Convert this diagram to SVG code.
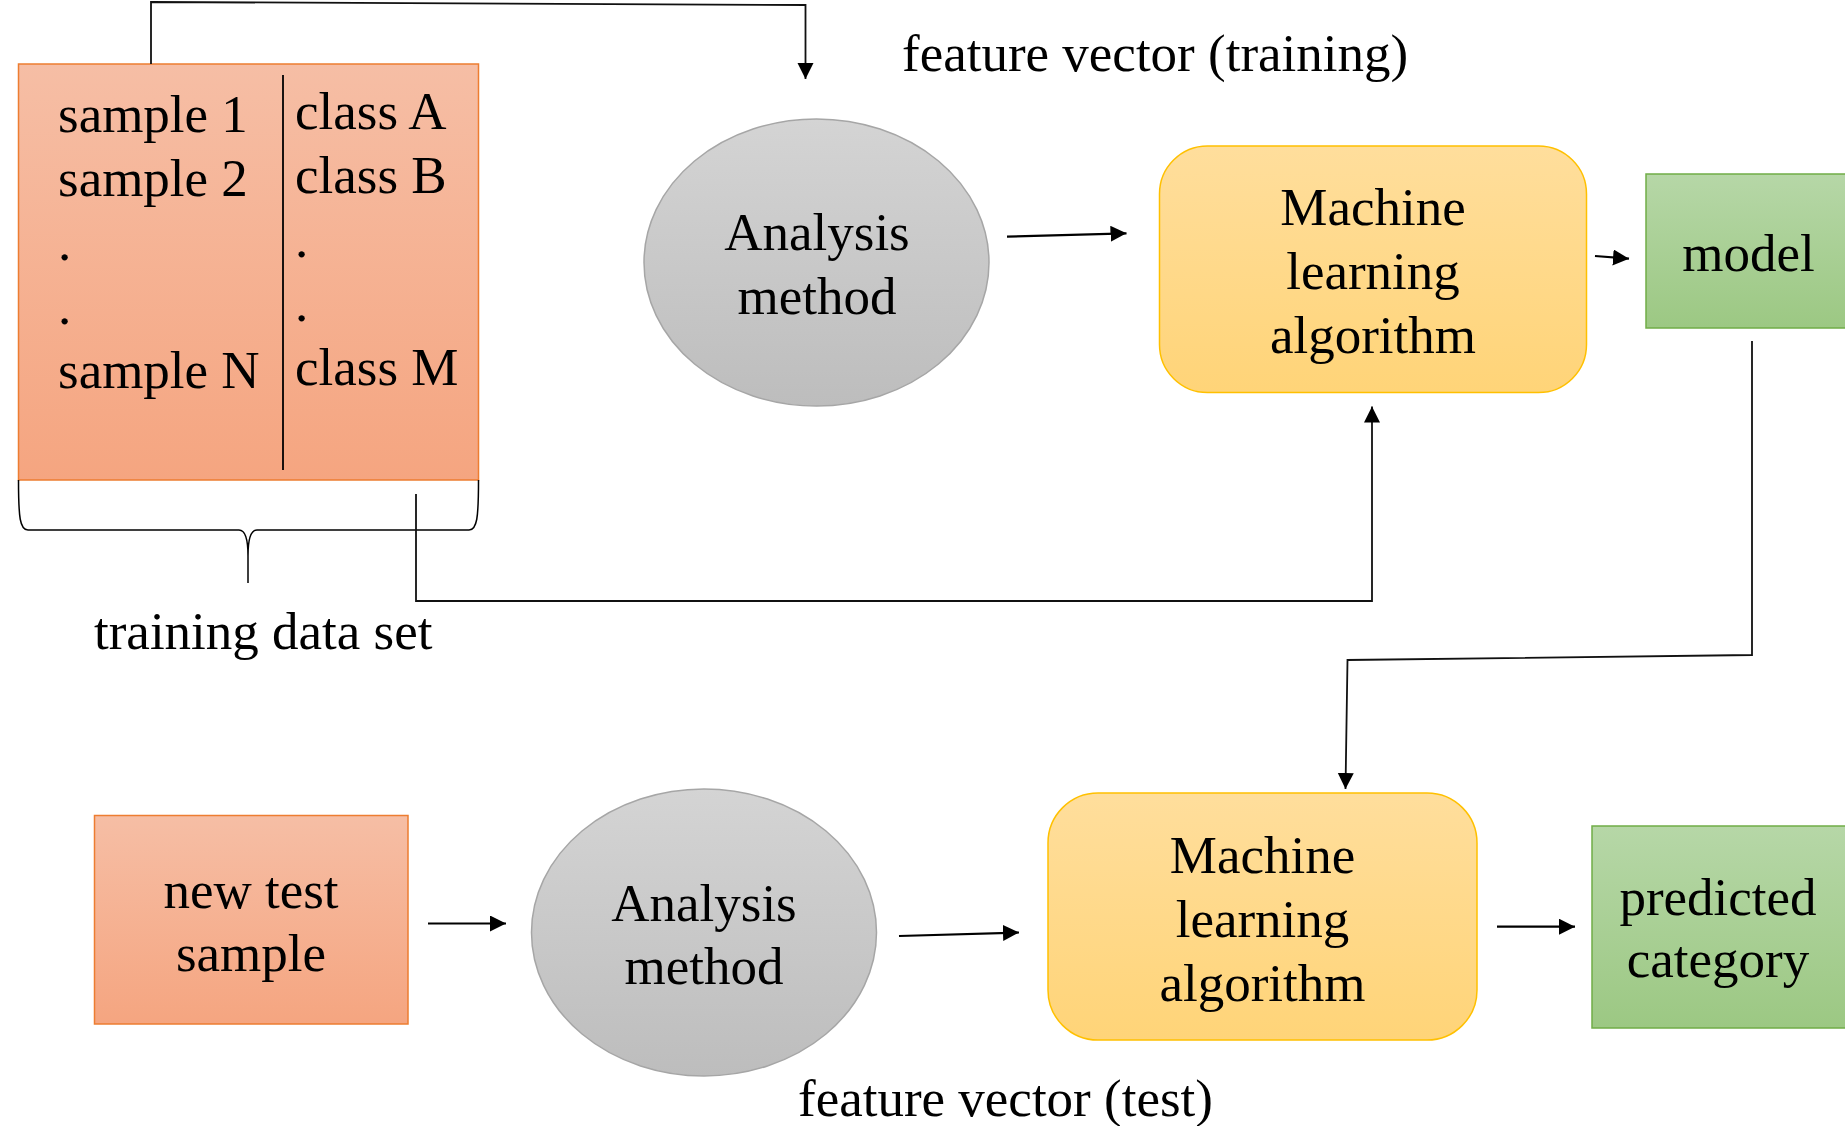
<svg xmlns="http://www.w3.org/2000/svg" width="1845" height="1126" viewBox="0 0 1845 1126">
<style>
text{font-family:"Liberation Serif","Times New Roman",serif;font-size:53px;fill:#000}
.c{text-anchor:middle}
.orange{fill:url(#gOrange);stroke:#ED7D31;stroke-width:1.5}
.gray{fill:url(#gGray);stroke:#A6A6A6;stroke-width:1.5}
.yellow{fill:url(#gYellow);stroke:#FFC000;stroke-width:1.5}
.green{fill:url(#gGreen);stroke:#70AD47;stroke-width:1.5}
.arrow{fill:none;stroke:#000;stroke-width:2.2;marker-end:url(#ah)}
.thin{fill:none;stroke:#333;stroke-width:1.5}
.thinarrow{fill:none;stroke:#111;stroke-width:1.8;marker-end:url(#ah)}
</style>
<defs>
<linearGradient id="gOrange" x1="0" y1="0" x2="0" y2="1"><stop offset="0" stop-color="#F6BEA5"/><stop offset="1" stop-color="#F5A580"/></linearGradient>
<linearGradient id="gGray" x1="0" y1="0" x2="0" y2="1"><stop offset="0" stop-color="#D4D4D4"/><stop offset="1" stop-color="#BDBDBD"/></linearGradient>
<linearGradient id="gYellow" x1="0" y1="0" x2="0" y2="1"><stop offset="0" stop-color="#FFDE9C"/><stop offset="1" stop-color="#FFD478"/></linearGradient>
<linearGradient id="gGreen" x1="0" y1="0" x2="0" y2="1"><stop offset="0" stop-color="#B6D7A7"/><stop offset="1" stop-color="#9CC883"/></linearGradient>
<marker id="ah" markerUnits="userSpaceOnUse" markerWidth="17" markerHeight="17" refX="16" refY="8" orient="auto"><path d="M0,0 L16,8 L0,16 z" fill="#000"/></marker>
</defs>

<g id="training-data">
<rect class="orange" x="18.5" y="64" width="460" height="416"/>
<line x1="283" y1="75" x2="283" y2="470" stroke="#000" stroke-width="1.8"/>
<text x="58" y="132">sample 1</text>
<text x="58" y="196">sample 2</text>
<text x="58" y="260">.</text>
<text x="58" y="324">.</text>
<text x="58" y="388">sample N</text>
<text x="295" y="129">class A</text>
<text x="295" y="193">class B</text>
<text x="295" y="257">.</text>
<text x="295" y="321">.</text>
<text x="295" y="385">class M</text>
</g>

<g id="brace">
<path d="M18.5,480 C18.5,518 20,530 28,530 L239,530 C245,530 248,538 248,556 L248,583 M248,556 C248,538 251,530 257,530 L469,530 C477,530 478.5,518 478.5,480" fill="none" stroke="#000" stroke-width="1.5"/>
<text x="94" y="649">training data set</text>
</g>

<g id="analysis-train">
<ellipse class="gray" cx="816.5" cy="262.5" rx="172.5" ry="143.5"/>
<text class="c" x="817" y="250">Analysis</text>
<text class="c" x="817" y="314">method</text>
</g>

<g id="ml-train">
<rect class="yellow" x="1159.5" y="146" width="427" height="246.5" rx="48" ry="48"/>
<text class="c" x="1373" y="225">Machine</text>
<text class="c" x="1373" y="289">learning</text>
<text class="c" x="1373" y="353">algorithm</text>
</g>

<g id="model">
<rect class="green" x="1646" y="174" width="210" height="154"/>
<text class="c" x="1748.5" y="271">model</text>
</g>

<g id="new-test-sample">
<rect class="orange" x="94.5" y="815.5" width="313.5" height="208.5"/>
<text class="c" x="251" y="908">new test</text>
<text class="c" x="251" y="971">sample</text>
</g>

<g id="analysis-test">
<ellipse class="gray" cx="704" cy="932.5" rx="172.5" ry="143.5"/>
<text class="c" x="704" y="921">Analysis</text>
<text class="c" x="704" y="984">method</text>
</g>

<g id="ml-test">
<rect class="yellow" x="1048" y="793" width="429" height="247" rx="50" ry="50"/>
<text class="c" x="1262.5" y="873">Machine</text>
<text class="c" x="1262.5" y="937">learning</text>
<text class="c" x="1262.5" y="1001">algorithm</text>
</g>

<g id="predicted">
<rect class="green" x="1592" y="826" width="264" height="202"/>
<text class="c" x="1718" y="915">predicted</text>
<text class="c" x="1718" y="977">category</text>
</g>

<g id="labels">
<text x="902" y="71">feature vector (training)</text>
<text x="798" y="1116">feature vector (test)</text>
</g>

<g id="connectors">
<path class="thinarrow" d="M151,64 L151,2 L805.5,5 L805.5,79"/>
<line class="arrow" x1="1007" y1="236.7" x2="1126.5" y2="233.3"/>
<line class="arrow" x1="1595" y1="256" x2="1629" y2="258.7"/>
<path class="thinarrow" d="M416,494 L416,601 L1372,601 L1372,406.5"/>
<path class="thinarrow" d="M1752,341 L1752,655 L1347.5,660 L1345.5,789"/>
<line class="arrow" x1="428" y1="923.5" x2="506" y2="923.5"/>
<line class="arrow" x1="899" y1="936" x2="1019" y2="932.5"/>
<line class="arrow" x1="1497" y1="926.7" x2="1575" y2="926.7"/>
</g>
</svg>
